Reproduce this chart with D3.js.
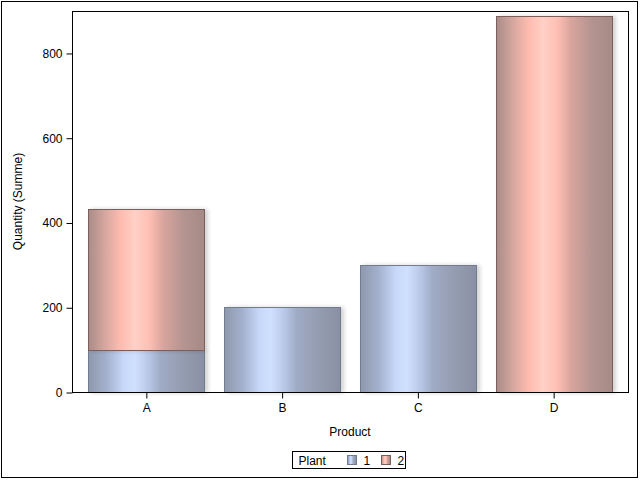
<!DOCTYPE html>
<html lang="en">
<head>
<meta charset="utf-8">
<script src="https://d3js.org/d3.v7.min.js"></script>
<style>
  body { margin: 0; background: #fff; }
  svg { font-family: "Liberation Sans", Arial, sans-serif; }
</style>
</head>
<body>
<svg id="chart" width="640" height="480"></svg>
<script>
// data
var products = ["A", "B", "C", "D"];
var plants = ["1", "2"];
var plant1 = [100, 200, 300, 0];
var plant2 = [332, 0, 0, 887];
var yTicks = [0, 200, 400, 600, 800];

var svg = d3.select("#chart");
var margin = {left: 72, top: 11, right: 628, bottom: 392};

var defs = svg.append("defs");
function grad(id, stops) {
  var g = defs.append("linearGradient").attr("id", id)
    .attr("x1", "0%").attr("x2", "100%").attr("y1", "0%").attr("y2", "0%");
  stops.forEach(function(s) {
    g.append("stop").attr("offset", s[0]).attr("stop-color", s[1]);
  });
}
grad("blueGrad", [["0%", "#8e98ae"], ["15%", "#a3b0cc"], ["30%", "#c6d7f8"], ["40%", "#d0e1ff"], ["52%", "#b8c7e6"], ["62%", "#a0abc6"], ["80%", "#959db2"], ["100%", "#8990a4"]]);
grad("redGrad", [["0%", "#aa8c89"], ["15%", "#d8a8a0"], ["28%", "#ffbcb0"], ["40%", "#ffd0c6"], ["52%", "#ffc0b4"], ["64%", "#d9a59e"], ["82%", "#b49490"], ["100%", "#a68a86"]]);
var f = defs.append("filter").attr("id", "shadow").attr("x", "-10%").attr("width", "130%");
f.append("feGaussianBlur").attr("in", "SourceAlpha").attr("stdDeviation", 2).attr("result", "b");
f.append("feOffset").attr("in", "b").attr("dx", 3).attr("dy", 0).attr("result", "o");
f.append("feComponentTransfer").attr("in", "o").attr("result", "s")
  .append("feFuncA").attr("type", "linear").attr("slope", 0.18);
var fm = f.append("feMerge");
fm.append("feMergeNode").attr("in", "s");
fm.append("feMergeNode").attr("in", "SourceGraphic");

// outer border
svg.append("rect").attr("x", 1.5).attr("y", 1.5).attr("width", 636).attr("height", 476)
  .attr("fill", "none").attr("stroke", "#000").attr("stroke-width", 1);

var x = d3.scaleBand().domain(products).range([margin.left, margin.right])
  .paddingInner(0.145).paddingOuter(0.12);
var y = d3.scaleLinear().domain([0, 899]).range([margin.bottom, margin.top]);

var stacked = products.map(function(p, i) {
  return [
    {p: p, plant: "1", y0: 0, y1: plant1[i]},
    {p: p, plant: "2", y0: plant1[i], y1: plant1[i] + plant2[i]}
  ];
});
var segs = [].concat.apply([], stacked).filter(function(d) { return d.y1 > d.y0; });

svg.append("g").selectAll("rect")
  .data(segs)
  .enter().append("rect")
    .attr("x", function(d) { return Math.round(x(d.p)) + 0.5; })
    .attr("y", function(d) { return Math.round(y(d.y1)) + 0.5; })
    .attr("width", Math.round(x.bandwidth()))
    .attr("height", function(d) { return Math.round(y(d.y0)) - Math.round(y(d.y1)); })
    .attr("fill", function(d) { return d.plant == "1" ? "url(#blueGrad)" : "url(#redGrad)"; })
    .attr("stroke", function(d) { return d.plant == "1" ? "#737c8e" : "#7a5e5a"; })
    .attr("stroke-width", 1)
    .attr("filter", "url(#shadow)");

// frame
svg.append("rect").attr("x", margin.left + 0.5).attr("y", margin.top + 0.5)
  .attr("width", margin.right - margin.left).attr("height", margin.bottom - margin.top)
  .attr("fill", "none").attr("stroke", "#000");

var yAxis = svg.append("g")
  .attr("transform", "translate(" + (margin.left + 0.5) + ",0.5)")
  .call(d3.axisLeft(y).tickValues(yTicks).tickSize(6).tickPadding(4).tickSizeOuter(0));
yAxis.select(".domain").remove();
yAxis.selectAll("text").attr("font-size", 12).attr("font-family", "Liberation Sans, Arial, sans-serif").attr("fill", "#000");

var xAxis = svg.append("g")
  .attr("transform", "translate(0.5," + (margin.bottom + 0.5) + ")")
  .call(d3.axisBottom(x).tickSize(6).tickPadding(5).tickSizeOuter(0));
xAxis.select(".domain").remove();
xAxis.selectAll("text").attr("font-size", 12).attr("font-family", "Liberation Sans, Arial, sans-serif").attr("fill", "#000");

svg.append("text").attr("x", (margin.left + margin.right) / 2).attr("y", 436)
  .attr("text-anchor", "middle").attr("font-size", 12).text("Product");
svg.append("text").attr("transform", "translate(22," + ((margin.top + margin.bottom) / 2) + ") rotate(-90)")
  .attr("text-anchor", "middle").attr("font-size", 12).text("Quantity (Summe)");

// legend
var lg = svg.append("g").attr("transform", "translate(292.5,451.5)");
lg.append("rect").attr("width", 113).attr("height", 17).attr("fill", "#fff").attr("stroke", "#000");
lg.append("text").attr("x", 6).attr("y", 13).attr("font-size", 12).text("Plant");
var items = lg.selectAll("g.item").data(plants).enter().append("g")
  .attr("transform", function(d, i) { return "translate(" + (55 + i * 34) + ",4)"; });
items.append("rect").attr("width", 9).attr("height", 9)
  .attr("fill", function(d) { return d == "1" ? "url(#blueGrad)" : "url(#redGrad)"; })
  .attr("stroke", function(d) { return d == "1" ? "#737c8e" : "#7a5e5a"; });
items.append("text").attr("x", 16).attr("y", 9.5).attr("font-size", 12).text(function(d) { return d; });
</script>
</body>
</html>
